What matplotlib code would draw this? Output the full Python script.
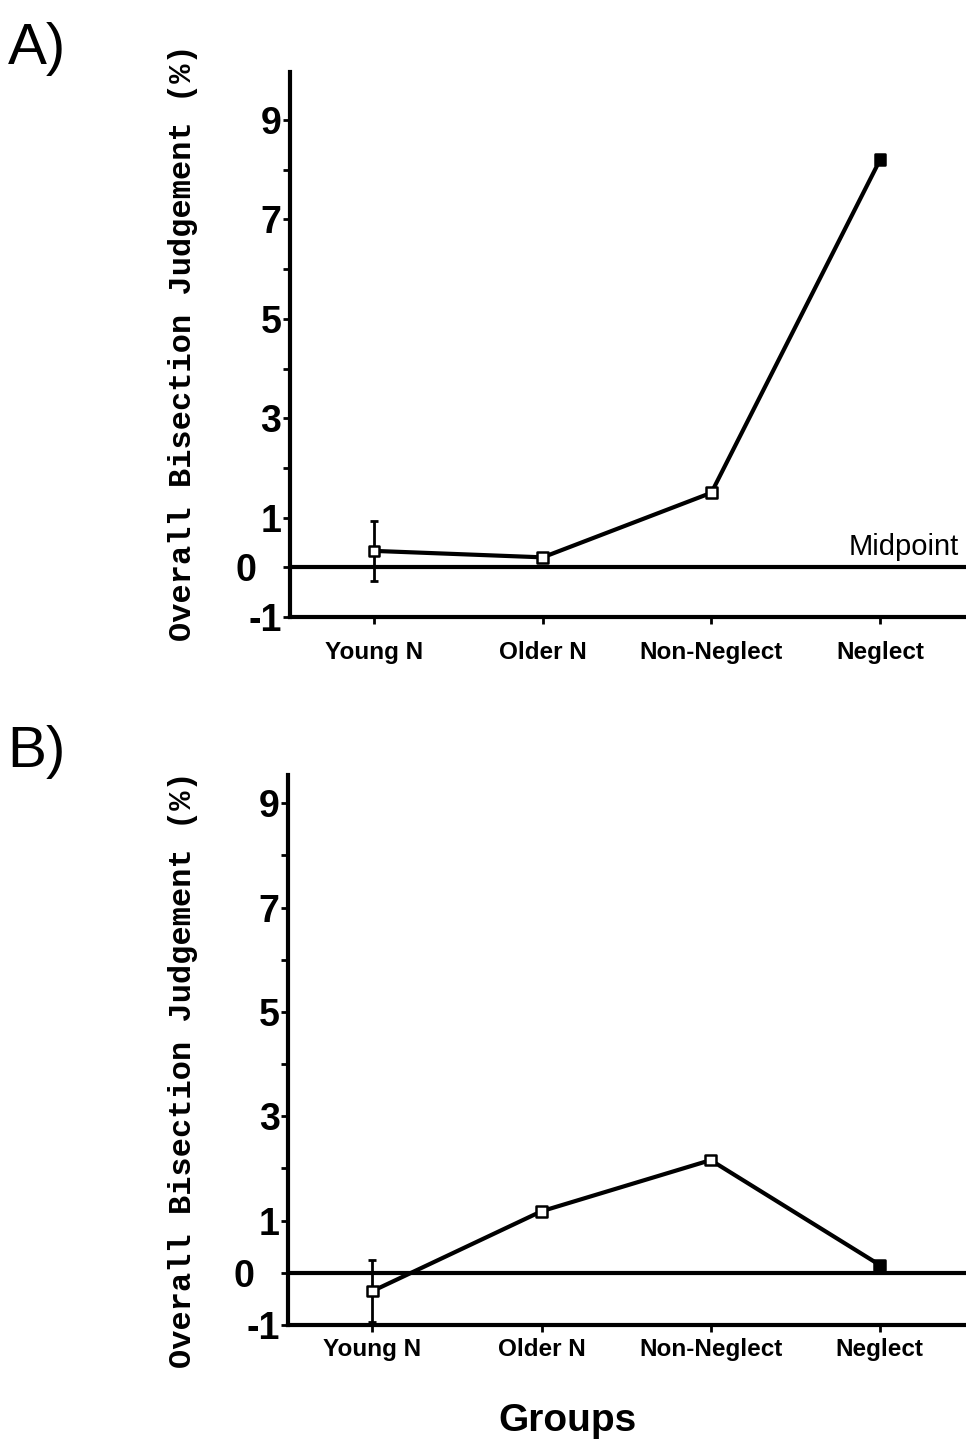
import matplotlib.pyplot as plt
from matplotlib.transforms import ScaledTranslation

groups = ["Young N", "Older N", "Non-Neglect", "Neglect"]
means_a = [0.33, 0.2, 1.5, 8.2]
err_a = [0.6, 0.0, 0.0, 0.0]
means_b = [-0.35, 1.18, 2.16, 0.15]
err_b = [0.6, 0.0, 0.0, 0.0]
ytick_vals = [-1, 0, 1, 3, 5, 7, 9]
ytick_minor = [2, 4, 6, 8]

fig = plt.figure(figsize=(9.66, 14.5), dpi=100)

num_font = dict(family="Liberation Sans", weight="bold", size=27)
cat_font = dict(family="Liberation Sans", weight="bold", size=17.5)
mono_font = dict(family="Liberation Mono", weight="bold", size=23)


def panel(rect, means, errs, ymax, pad):
    ax = fig.add_axes(rect)
    x = list(range(len(groups)))
    ax.plot(x, means, color="black", lw=3, zorder=3)
    ax.errorbar(x, means, yerr=errs, fmt="none", ecolor="black",
                elinewidth=2, capsize=3, capthick=2, zorder=3)
    faces = ["white", "white", "white", "black"]
    ax.scatter(x, means, s=60, marker="s", facecolors=faces,
               edgecolors="black", linewidths=1.8, zorder=4)
    ax.axhline(0, color="black", lw=3, zorder=2)
    ax.set_xlim(-0.5, 3.51)
    ax.set_ylim(-1, ymax)
    ax.set_xticks(x)
    ax.set_xticklabels(groups, fontdict=cat_font)
    ax.set_yticks(ytick_vals)
    ax.set_yticks(ytick_minor, minor=True)
    ax.set_yticklabels([str(v) for v in ytick_vals], fontdict=num_font)
    for s in ["top", "right"]:
        ax.spines[s].set_visible(False)
    for s in ["left", "bottom"]:
        ax.spines[s].set_linewidth(3)
    ax.tick_params(axis="y", which="both", direction="out", length=5,
                   width=2, pad=1)
    ax.tick_params(axis="x", direction="out", length=5, width=2, pad=pad)
    for lab in ax.get_yticklabels():
        if lab.get_text() == "0":
            lab.set_transform(lab.get_transform() +
                              ScaledTranslation(-0.25, 0, fig.dpi_scale_trans))
    return ax


ax_a = panel([0.300, 0.5745, 0.70, 0.3759], means_a, err_a, 9.97, 12)
ax_b = panel([0.298, 0.0862, 0.702, 0.3793], means_b, err_b, 9.54, 4)

ax_a.text(3.47, 0.12, "Midpoint", ha="right", va="bottom",
          family="Liberation Sans", size=21)

fig.text(0.189, 0.764, "Overall Bisection Judgement (%)", rotation=90,
         ha="center", va="center", fontdict=mono_font)
fig.text(0.189, 0.262, "Overall Bisection Judgement (%)", rotation=90,
         ha="center", va="center", fontdict=mono_font)

fig.text(0.008, 0.985, "A)", ha="left", va="top",
         family="Liberation Sans", size=42)
fig.text(0.008, 0.500, "B)", ha="left", va="top",
         family="Liberation Sans", size=42)

fig.text(0.587, 0.020, "Groups", ha="center", va="center",
         family="Liberation Sans", weight="bold", size=28)

fig.savefig("out.png", dpi=100)
